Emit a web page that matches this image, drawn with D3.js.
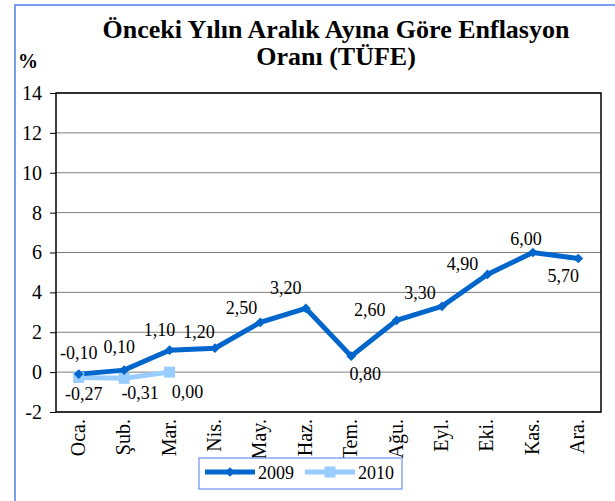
<!DOCTYPE html>
<html>
<head>
<meta charset="utf-8">
<script src="https://cdn.jsdelivr.net/npm/d3@7"></script>
<style>
  body { margin: 0; background: #fff; }
  svg text { font-family: 'Liberation Serif', 'Times New Roman', Times, 'DejaVu Serif', serif; fill: #000; }
</style>
</head>
<body>
<div id="vis"></div>
<script>
// months (x categories)
var months = ["Oca.", "Şub.", "Mar.", "Nis.", "May.", "Haz.", "Tem.", "Ağu.", "Eyl.", "Eki.", "Kas.", "Ara."];
// series values
var values2009 = [-0.10, 0.10, 1.10, 1.20, 2.50, 3.20, 0.80, 2.60, 3.30, 4.90, 6.00, 5.70];
var values2010 = [-0.27, -0.31, 0.00];
var yTicks = [-2, 0, 2, 4, 6, 8, 10, 12, 14];

// label nudges (dx, dy from point), placed by hand in the original
var nudge2009 = [[0, -15], [-5, -17], [-10, -14], [-16, -10], [-19, -8], [-20, -14],
                 [14, 24], [-27, -4], [-22, -7], [-25, -4], [-7, -8], [-15, 24]];
var nudge2010 = [[5, 22], [16, 21], [18, 26]];

var serif = "'Liberation Serif', 'Times New Roman', Times, 'DejaVu Serif', serif";

var width = 615, height = 501;
var margin = {top: 93, right: 14, bottom: 89, left: 56};

var svg = d3.select("#vis").append("svg")
    .attr("width", width)
    .attr("height", height)
    .attr("font-family", serif);

// outer chart border
svg.append("rect")
    .attr("x", 15).attr("y", 5)
    .attr("width", width).attr("height", height)
    .attr("fill", "none")
    .attr("stroke", "#4f7fe6")
    .attr("stroke-width", 1.5);

var x = d3.scaleBand()
    .domain(months)
    .range([margin.left, width - margin.right])
    .padding(0);

var y = d3.scaleLinear()
    .domain([-2, 14])
    .range([height - margin.bottom, margin.top]);

function cx(i) { return x(months[i]) + x.bandwidth() / 2; }

// gridlines
svg.append("g")
    .selectAll("line")
    .data(yTicks)
    .join("line")
    .attr("x1", margin.left).attr("x2", width - margin.right)
    .attr("y1", function(d) { return y(d); })
    .attr("y2", function(d) { return y(d); })
    .attr("stroke", "#7f7f7f")
    .attr("stroke-width", 1);

// plot area border
svg.append("rect")
    .attr("x", margin.left).attr("y", margin.top)
    .attr("width", width - margin.right - margin.left)
    .attr("height", height - margin.bottom - margin.top)
    .attr("fill", "none")
    .attr("stroke", "#000")
    .attr("stroke-width", 1.5);

// y axis (plain hyphen for negatives, like the original)
var yAxis = d3.axisLeft(y)
    .tickValues(yTicks)
    .tickSize(6)
    .tickPadding(8)
    .tickFormat(function(d) { return String(d); });

var yg = svg.append("g")
    .attr("transform", "translate(" + margin.left + ",0)")
    .call(yAxis)
    .attr("font-family", serif)
    .attr("font-size", 20);
yg.select(".domain").remove();
yg.selectAll("line").attr("stroke", "#000");

// x axis labels (rotated)
var xAxis = d3.axisBottom(x).tickSize(0).tickPadding(0);
var xg = svg.append("g")
    .attr("transform", "translate(0," + (height - margin.bottom) + ")")
    .call(xAxis)
    .attr("font-family", serif)
    .attr("font-size", 20);
xg.select(".domain").remove();
xg.selectAll("text")
    .attr("text-anchor", "end")
    .attr("transform", "translate(0,7) rotate(-90)")
    .attr("x", 0)
    .attr("y", 0)
    .attr("dy", "0.3em");

// lines
var line = d3.line()
    .x(function(d, i) { return cx(i); })
    .y(function(d) { return y(d); });

svg.append("path")
    .datum(values2010)
    .attr("fill", "none")
    .attr("stroke", "#99ccff")
    .attr("stroke-width", 5)
    .attr("d", line);

svg.append("path")
    .datum(values2009)
    .attr("fill", "none")
    .attr("stroke", "#0066cc")
    .attr("stroke-width", 5)
    .attr("d", line);

// 2010 square markers
svg.append("g")
    .selectAll("rect")
    .data(values2010)
    .join("rect")
    .attr("x", function(d, i) { return cx(i) - 5.5; })
    .attr("y", function(d) { return y(d) - 5.5; })
    .attr("width", 11).attr("height", 11)
    .attr("fill", "#99ccff");

// 2009 diamond markers
svg.append("g")
    .selectAll("path")
    .data(values2009)
    .join("path")
    .attr("d", d3.symbol().type(d3.symbolDiamond2).size(60))
    .attr("transform", function(d, i) { return "translate(" + cx(i) + "," + y(d) + ")"; })
    .attr("fill", "#0066cc");

var fmt = function(v) { return d3.format(".2f")(v).replace(".", ",").replace("−", "-"); };

// data labels
svg.append("g")
    .attr("font-size", 18)
    .selectAll("text")
    .data(values2009)
    .join("text")
    .attr("x", function(d, i) { return cx(i) + nudge2009[i][0]; })
    .attr("y", function(d, i) { return y(d) + nudge2009[i][1]; })
    .attr("text-anchor", "middle")
    .text(fmt);

svg.append("g")
    .attr("font-size", 18)
    .selectAll("text")
    .data(values2010)
    .join("text")
    .attr("x", function(d, i) { return cx(i) + nudge2010[i][0]; })
    .attr("y", function(d, i) { return y(d) + nudge2010[i][1]; })
    .attr("text-anchor", "middle")
    .text(fmt);

// title
var title = svg.append("g")
    .attr("font-size", 26)
    .attr("font-weight", "bold")
    .attr("text-anchor", "middle");
title.append("text")
    .attr("x", 336).attr("y", 38)
    .text("Önceki Yılın Aralık Ayına Göre Enflasyon");
title.append("text")
    .attr("x", 336).attr("y", 65)
    .text("Oranı (TÜFE)");

// unit label
svg.append("text")
    .attr("x", 18).attr("y", 68)
    .attr("font-size", 20)
    .attr("font-weight", "bold")
    .text("%");

// legend
var legend = svg.append("g");
legend.append("rect")
    .attr("x", 199).attr("y", 458)
    .attr("width", 203).attr("height", 31)
    .attr("fill", "#fff")
    .attr("stroke", "#6a8ff0")
    .attr("stroke-width", 1.2);

var series = [
    {name: "2009", color: "#0066cc", x0: 205, marker: "diamond"},
    {name: "2010", color: "#99ccff", x0: 305, marker: "square"}
];

series.forEach(function(s) {
    legend.append("line")
        .attr("x1", s.x0).attr("x2", s.x0 + 50)
        .attr("y1", 472).attr("y2", 472)
        .attr("stroke", s.color)
        .attr("stroke-width", 5);
    if (s.marker === "diamond") {
        legend.append("path")
            .attr("d", d3.symbol().type(d3.symbolDiamond2).size(60))
            .attr("transform", "translate(" + (s.x0 + 25) + ",472)")
            .attr("fill", s.color);
    } else {
        legend.append("rect")
            .attr("x", s.x0 + 25 - 5.5).attr("y", 472 - 5.5)
            .attr("width", 11).attr("height", 11)
            .attr("fill", s.color);
    }
    legend.append("text")
        .attr("x", s.x0 + 53).attr("y", 479)
        .attr("font-size", 18)
        .text(s.name);
});
</script>
</body>
</html>
